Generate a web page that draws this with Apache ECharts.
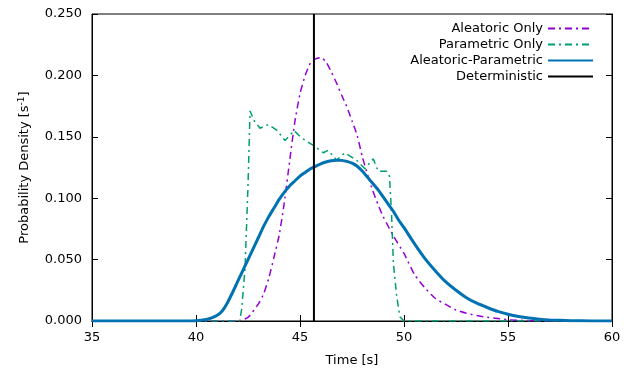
<!DOCTYPE html>
<html><head><meta charset="utf-8">
<script src="https://cdn.jsdelivr.net/npm/echarts@6/dist/echarts.min.js"></script>
<style>html,body{margin:0;padding:0;background:#fff}#c{width:634px;height:376px}</style>
</head><body><div id="c"></div>
<script>
// Aleatoric Only
var aleaT = [35, 41, 42, 42.5, 43, 43.25, 43.5, 43.75, 44, 44.25, 44.5, 44.75, 45, 45.25, 45.5, 45.75, 46, 46.25, 46.5, 46.75, 47, 47.25, 47.5, 47.75, 48, 48.25, 48.5, 48.75, 49, 49.5, 50, 50.5, 51, 51.5, 52, 52.5, 53, 53.5, 54, 54.5, 55, 56, 57, 60];
var aleaV = [0, 0, 0, 0.003, 0.014, 0.022, 0.035, 0.052, 0.070, 0.097, 0.130, 0.162, 0.185, 0.200, 0.210, 0.2135, 0.2145, 0.211, 0.203, 0.194, 0.184, 0.1745, 0.163, 0.151, 0.1335, 0.119, 0.106, 0.095, 0.085, 0.069, 0.055, 0.038, 0.027, 0.0185, 0.0135, 0.009, 0.0063, 0.0045, 0.003, 0.002, 0.001, 0.0003, 0, 0];
// Parametric Only
var paraT = [35, 42.1, 42.2, 42.36, 42.5, 42.6, 42.8, 43.08, 43.48, 43.88, 44.28, 44.72, 45.08, 45.64, 46.12, 46.35, 46.76, 47.16, 47.72, 48.12, 48.52, 48.76, 49.16, 49.3, 49.4, 49.49, 49.65, 49.8, 50, 60];
var paraV = [0, 0, 0.01, 0.044, 0.11, 0.171, 0.163, 0.157, 0.160, 0.1555, 0.147, 0.155, 0.149, 0.143, 0.137, 0.139, 0.131, 0.137, 0.131, 0.124, 0.132, 0.122, 0.122, 0.118, 0.088, 0.047, 0.020, 0.0035, 0, 0];
// Aleatoric-Parametric
var bothT = [35, 39.5, 40, 40.25, 40.5, 40.75, 41, 41.25, 41.5, 41.75, 42, 42.25, 42.5, 42.75, 43, 43.25, 43.5, 43.75, 44, 44.25, 44.5, 44.75, 45, 45.25, 45.5, 45.75, 46, 46.25, 46.5, 46.75, 47, 47.25, 47.5, 47.75, 48, 48.25, 48.5, 48.75, 49, 49.25, 49.5, 49.75, 50, 50.5, 51, 51.5, 52, 52.5, 53, 53.5, 54, 54.5, 55, 55.5, 56, 56.5, 57, 58, 59, 60];
var bothV = [0, 0, 0.0002, 0.0006, 0.0012, 0.0025, 0.0045, 0.008, 0.0145, 0.023, 0.032, 0.041, 0.050, 0.059, 0.068, 0.077, 0.085, 0.092, 0.099, 0.105, 0.110, 0.114, 0.118, 0.121, 0.124, 0.126, 0.128, 0.1295, 0.1305, 0.131, 0.1308, 0.130, 0.1285, 0.126, 0.122, 0.117, 0.112, 0.107, 0.101, 0.095, 0.089, 0.082, 0.076, 0.063, 0.051, 0.041, 0.032, 0.025, 0.019, 0.0145, 0.011, 0.0078, 0.0055, 0.0037, 0.0024, 0.0015, 0.0009, 0.0003, 0.0001, 0];
// Deterministic
var detT = [45.67, 45.67];
var detV = [0, 0.25];

var xTicks = [35, 40, 45, 50, 55, 60];
var yTicks = [0, 0.05, 0.1, 0.15, 0.2, 0.25];

function zip(a, b) { return a.map(function (t, i) { return [t, b[i]]; }); }

var chart = echarts.init(document.getElementById('c'), null, {renderer: 'canvas'});
var font = 'DejaVu Sans';
var dashDot = [7, 4, 2, 4];
var baseX = {
  type: 'value', min: xTicks[0], max: xTicks[xTicks.length - 1], interval: 5,
  axisLine: {show: true, lineStyle: {color: '#000', width: 1}},
  axisTick: {show: true, inside: true, length: 6, lineStyle: {color: '#000'}},
  splitLine: {show: false}
};
var baseY = {
  type: 'value', min: yTicks[0], max: yTicks[yTicks.length - 1], interval: 0.05,
  axisLine: {show: true, lineStyle: {color: '#000', width: 1}},
  axisTick: {show: true, inside: true, length: 6, lineStyle: {color: '#000'}},
  splitLine: {show: false}
};
chart.setOption({
  animation: false,
  textStyle: {fontFamily: font},
  grid: {left: 92, right: 22, top: 14, bottom: 55, show: true, borderColor: '#000', borderWidth: 1},
  xAxis: [
    Object.assign({}, baseX, {
      position: 'bottom', name: 'Time [s]', nameLocation: 'middle', nameGap: 33,
      nameTextStyle: {fontSize: 13, color: '#000', fontFamily: font},
      axisLabel: {fontSize: 13, color: '#000', margin: 10, fontFamily: font}
    }),
    Object.assign({}, baseX, {position: 'top', axisLabel: {show: false}})
  ],
  yAxis: [
    Object.assign({}, baseY, {
      position: 'left', name: 'Probability Density [s{sup|-1}]', nameLocation: 'middle', nameGap: 60,
      nameTextStyle: {fontSize: 13, color: '#000', fontFamily: font,
        rich: {sup: {fontSize: 9, verticalAlign: 'top', padding: [0, 0, 6, 0], color: '#000', fontFamily: font}}},
      axisLabel: {fontSize: 13, color: '#000', margin: 10, fontFamily: font,
        formatter: function (v) { return v.toFixed(3); }}
    }),
    Object.assign({}, baseY, {position: 'right', axisLabel: {show: false}})
  ],
  legend: {
    orient: 'vertical', right: 35, top: 17, align: 'right',
    itemWidth: 45, itemHeight: 12, itemGap: 3,
    itemStyle: {opacity: 0, borderWidth: 0},
    textStyle: {fontSize: 13, color: '#000', fontFamily: font},
    data: ['Aleatoric Only', 'Parametric Only', 'Aleatoric-Parametric', 'Deterministic']
  },
  series: [
    {name: 'Aleatoric Only', type: 'line', symbol: 'none', smooth: 0.2, data: zip(aleaT, aleaV),
      lineStyle: {color: '#9400d3', width: 1.5, type: dashDot}, itemStyle: {color: '#9400d3'}, z: 3},
    {name: 'Parametric Only', type: 'line', symbol: 'none', data: zip(paraT, paraV),
      lineStyle: {color: '#009e73', width: 1.5, type: dashDot}, itemStyle: {color: '#009e73'}, z: 3},
    {name: 'Aleatoric-Parametric', type: 'line', symbol: 'none', smooth: 0.2, data: zip(bothT, bothV),
      lineStyle: {color: '#0072b2', width: 3}, itemStyle: {color: '#0072b2'}, z: 4},
    {name: 'Deterministic', type: 'line', symbol: 'none', data: zip(detT, detV),
      lineStyle: {color: '#000', width: 2}, itemStyle: {color: '#000'}, z: 5}
  ]
});
</script></body></html>
